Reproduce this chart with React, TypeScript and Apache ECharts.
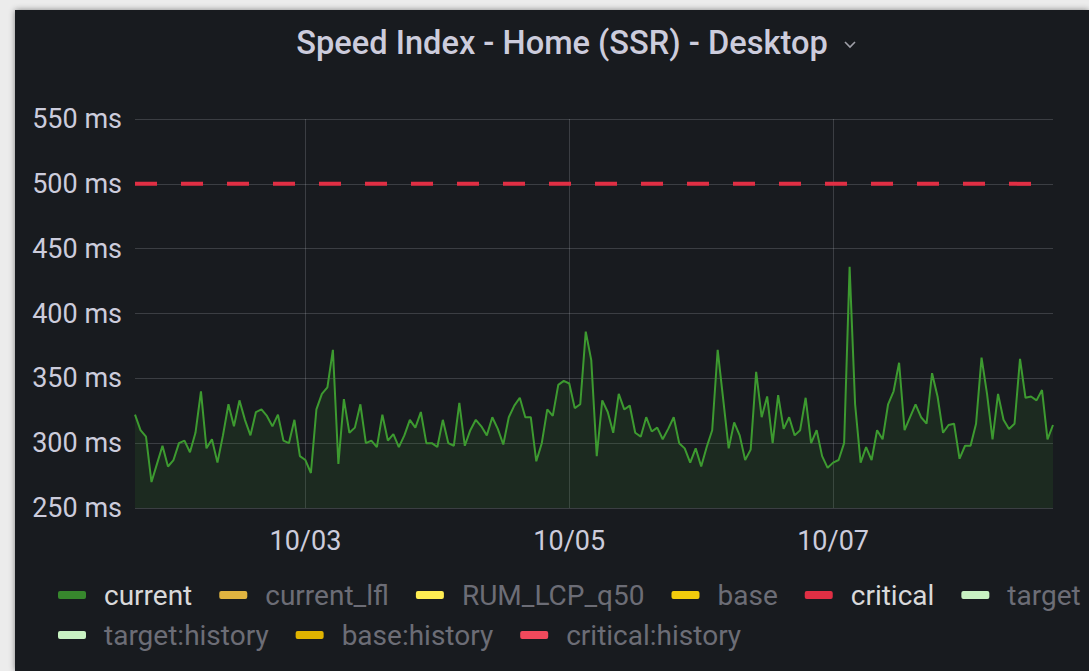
import React, { useEffect, useRef } from 'react';
import * as echarts from 'echarts';

// ---- data ----
const TITLE = 'Speed Index - Home (SSR) - Desktop';
const START_TIME = Date.UTC(2023, 9, 1, 17, 0); // 10/01 17:00
const STEP_MS = 3600 * 1000; // hourly samples

const currentValues = [
  322, 310, 305, 270, 284, 298, 282, 287, 300, 302,
  293, 308, 340, 296, 303, 285, 306, 330, 313, 333,
  318, 306, 324, 326, 321, 313, 322, 302, 300,
  318, 290, 287, 277, 326, 338, 343, 372, 284, 334, 308,
  312, 330, 300, 302, 297, 322, 302, 307, 297, 306,
  318, 312, 324, 300, 300, 297, 318,
  300, 298, 331, 298, 310, 318, 313, 306, 320, 311, 299, 320, 329,
  335, 320, 320, 286, 300, 326, 321, 345, 348, 346, 327, 330, 386, 364,
  290, 333, 324, 308, 338, 326, 329, 308, 305, 320, 309, 312, 303, 311, 320, 300,
  296, 285, 296, 282, 297, 310, 372, 334, 296, 316, 306, 287, 295,
  355, 320, 336, 300, 337, 311, 320, 306, 310, 335, 300, 310, 290, 281, 285, 287, 300,
  436, 330, 285, 297, 287, 310, 303, 330, 340, 362, 310, 320,
  330, 320, 315, 354, 336, 308, 314, 315, 288, 298, 298, 315, 366, 338, 303, 338, 318, 311, 315, 365, 335, 336, 333, 341, 303, 314,
];
const criticalValues = [500, 500];

const xTickValues = [Date.UTC(2023, 9, 3), Date.UTC(2023, 9, 5), Date.UTC(2023, 9, 7)];
const xTickLabels = ['10/03', '10/05', '10/07'];

const yMin = 250;
const yMax = 550;
const yStep = 50;
const yUnit = 'ms';

const legendRow1 = ['current', 'current_lfl', 'RUM_LCP_q50', 'base', 'critical', 'target'];
const legendRow2 = ['target:history', 'base:history', 'critical:history'];
const activeSeries = ['current', 'critical'];
const seriesColors: Record<string, string> = {
  current: '#37872d',
  current_lfl: '#e0b440',
  RUM_LCP_q50: '#ffee52',
  base: '#f2cc0c',
  critical: '#e02f44',
  target: '#c8f2c2',
  'target:history': '#c8f2c2',
  'base:history': '#e0b400',
  'critical:history': '#f2495c',
};

const FONT = 'Roboto, "Noto Sans", sans-serif';
const TEXT_BRIGHT = '#d8d9da';
const TEXT_AXIS = '#ccccdc';
const TEXT_DIM = '#6c6d76';
const GRID_COLOR = 'rgba(240,250,255,0.16)';

export default function App() {
  const ref = useRef<HTMLDivElement>(null);

  useEffect(() => {
    if (!ref.current) return;
    const chart = echarts.init(ref.current, undefined, { renderer: 'svg' });

    const times = currentValues.map((_, i) => START_TIME + i * STEP_MS);
    const endTime = times[times.length - 1];
    const currentData = currentValues.map((v, i) => [times[i], v]);
    const criticalData = [
      [START_TIME, criticalValues[0]],
      [endTime, criticalValues[1]],
    ];

    const allNames = [...legendRow1, ...legendRow2];
    const series: any[] = allNames.map((name) => {
      const color = seriesColors[name];
      const base: any = {
        name,
        type: 'line',
        symbol: 'none',
        showSymbol: false,
        itemStyle: { color },
        lineStyle: { color, width: 2 },
        data: [],
      };
      if (name === 'current') {
        base.data = currentData;
        base.lineStyle = { color: '#3d9a30', width: 2 };
        base.areaStyle = { color: 'rgba(55,135,45,0.2)' };
        base.z = 3;
      } else if (name === 'critical') {
        base.data = criticalData;
        base.lineStyle = { color, width: 4, type: [22, 24] };
        base.z = 4;
      }
      return base;
    });

    const legendItem = (name: string) => ({
      name,
      textStyle: { color: activeSeries.includes(name) ? TEXT_BRIGHT : TEXT_DIM },
    });
    const legendCommon = {
      left: 38,
      orient: 'horizontal',
      icon: 'roundRect',
      itemWidth: 28,
      itemHeight: 8,
      itemGap: 27,
      selectedMode: false,
      textStyle: { fontSize: 28, fontFamily: FONT, color: TEXT_DIM, padding: [0, 0, 0, 13] },
    };

    chart.setOption({
      animation: false,
      backgroundColor: 'transparent',
      title: {
        text: TITLE,
        left: 542,
        textAlign: 'center',
        top: 11,
        textStyle: { fontSize: 32.6, fontWeight: 500, fontFamily: FONT, color: TEXT_AXIS },
      },
      graphic: [
        {
          type: 'polyline',
          shape: { points: [[830, 32], [835, 37], [840, 32]] },
          style: { stroke: '#9fa0a8', lineWidth: 1.6, fill: null },
        },
      ],
      legend: [
        { ...legendCommon, top: 566, data: legendRow1.map(legendItem) },
        { ...legendCommon, top: 606, data: legendRow2.map(legendItem) },
      ],
      grid: { left: 120, right: 36, top: 109, bottom: 163 },
      xAxis: {
        type: 'value',
        min: START_TIME,
        max: endTime,
        axisLine: { show: false },
        axisTick: { show: false, customValues: xTickValues },
        axisLabel: {
          customValues: xTickValues,
          color: TEXT_AXIS,
          fontSize: 27,
          fontFamily: FONT,
          margin: 19,
          formatter: (val: number) => {
            const idx = xTickValues.indexOf(val);
            return idx >= 0 ? xTickLabels[idx] : '';
          },
        },
        splitLine: { show: true, lineStyle: { color: GRID_COLOR, width: 1 } },
      },
      yAxis: {
        type: 'value',
        min: yMin,
        max: yMax,
        interval: yStep,
        axisLine: { show: false },
        axisTick: { show: false },
        axisLabel: {
          color: TEXT_AXIS,
          fontSize: 27,
          fontFamily: FONT,
          margin: 13,
          formatter: (v: number) => `${v} ${yUnit}`,
        },
        splitLine: { show: true, lineStyle: { color: GRID_COLOR, width: 1 } },
      },
      series,
    });

    return () => chart.dispose();
  }, []);

  return (
    <div style={{ position: 'fixed', left: 0, top: 0, width: 1089, height: 671, background: '#ececec', overflow: 'hidden' }}>
      <div
        style={{
          position: 'absolute',
          left: 15,
          top: 10,
          width: 1074,
          height: 661,
          background: '#181b1f',
          boxShadow: '0 0 6px rgba(0,0,0,0.45)',
        }}
      >
        <div ref={ref} style={{ width: 1074, height: 661 }} />
      </div>
    </div>
  );
}
